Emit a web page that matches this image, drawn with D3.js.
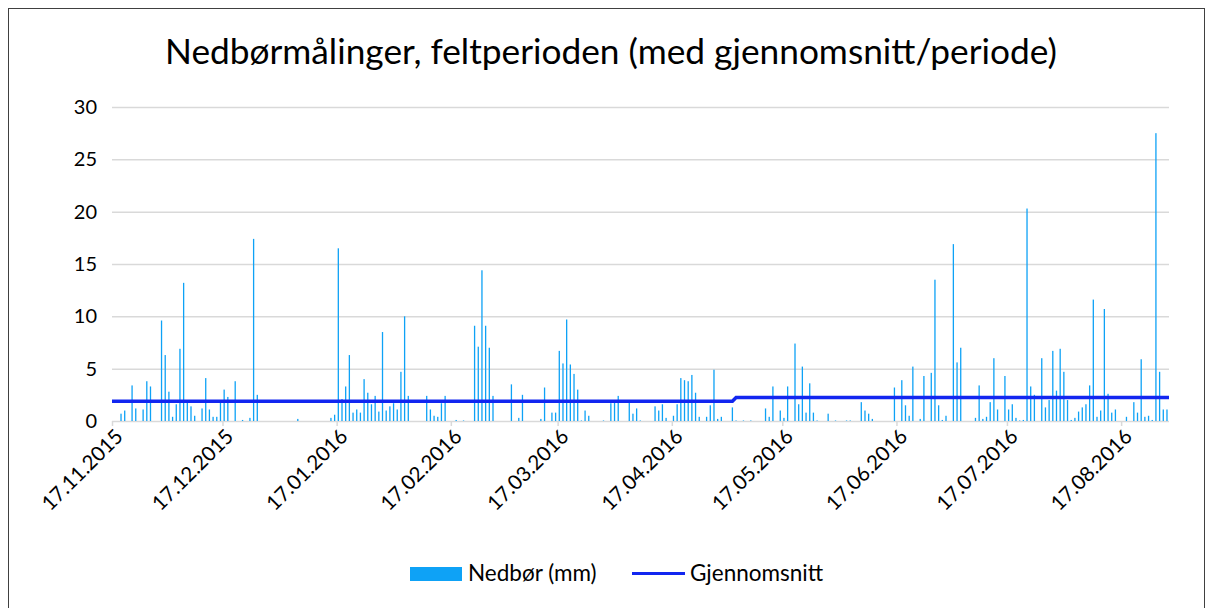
<!DOCTYPE html>
<html lang="no">
<head>
<meta charset="utf-8">
<title>Nedbørmålinger</title>
<script src="https://cdn.jsdelivr.net/npm/d3@7"></script>
<style>
    body { margin: 0; background: #fff; }
    text { font-family: "Lato", "Liberation Sans", sans-serif; fill: #000; }
</style>
</head>
<body>
<script>

    // daglig nedbør (mm) fra 17.11.2015, en verdi per dag
    var startDate = "17.11.2015",
        endDate = "30.08.2016";

    var nedbor = [
        0, 0, 0.7, 1.0, 0, 3.4, 1.2, 0, 1.1, 3.8,
        3.3, 0, 0, 9.6, 6.3, 2.8, 0.4, 1.6, 6.9, 13.2,
        1.8, 1.4, 0.5, 0, 1.2, 4.1, 1.1, 0.4, 0.4, 1.8,
        3.0, 2.3, 0, 3.8, 0, 0.1, 0, 0.3, 17.4, 2.5,
        0, 0, 0, 0, 0, 0, 0, 0, 0, 0,
        0.2, 0, 0, 0, 0, 0, 0, 0, 0, 0.3,
        0.6, 16.5, 2.1, 3.3, 6.3, 0.8, 1.1, 0.8, 4.0, 2.7,
        1.6, 2.4, 0.9, 8.5, 1.0, 1.4, 1.7, 1.1, 4.7, 10.0,
        2.4, 0, 0, 0, 0, 2.4, 1.1, 0.5, 0.4, 1.7,
        2.4, 0, 0, 0.1, 0, 0.05, 0, 0, 9.1, 7.1,
        14.4, 9.1, 7.0, 2.4, 0, 0, 0, 0, 3.5, 0,
        0.3, 2.5, 0, 0, 0, 0, 0.2, 3.2, 0, 0.8,
        0.8, 6.7, 5.5, 9.7, 5.4, 4.5, 3.0, 0.05, 1.0, 0.5,
        0, 0, 0, 0.05, 0, 1.7, 1.8, 2.4, 0, 0,
        2.0, 0.7, 1.2, 0.05, 0, 0, 0, 1.4, 1.0, 1.6,
        0.3, 0, 0.5, 1.6, 4.1, 3.9, 3.8, 4.4, 2.7, 0.4,
        0, 0.4, 1.5, 4.9, 0.2, 0.4, 0, 0, 1.3, 0.05,
        0, 0.05, 0, 0.05, 0, 0, 0, 1.2, 0.4, 3.3,
        0, 1.0, 0.3, 3.3, 0, 7.4, 1.6, 5.2, 0.8, 3.6,
        0.8, 0.05, 0, 0, 0.7, 0, 0.05, 0, 0, 0.05,
        0.05, 0, 0, 1.8, 1.0, 0.7, 0.2, 0, 0, 0,
        0, 0, 3.2, 0, 3.9, 1.5, 0.5, 5.2, 0, 0.2,
        4.3, 0, 4.6, 13.5, 1.5, 0.1, 0.5, 0, 16.9, 5.6,
        7.0, 0, 0, 0, 0.3, 3.4, 0.2, 0.4, 1.8, 6.0,
        1.1, 0, 4.3, 1.1, 1.6, 0.3, 0.05, 0.1, 20.3, 3.3,
        2.5, 0, 6.0, 1.3, 2.0, 6.7, 2.9, 6.9, 4.7, 2.0,
        0.1, 0.3, 0.9, 1.3, 1.6, 3.4, 11.6, 0.4, 1.0, 10.7,
        2.6, 0.8, 1.1, 0, 0, 0.4, 0, 1.8, 0.8, 5.9,
        0.4, 0.5, 0.1, 27.5, 4.7, 1.1, 1.1
    ];

    // gjennomsnitt per periode (to perioder)
    var snittDates = ["17.11.2015", "03.05.2016", "04.05.2016", "30.08.2016"];
    var snittValues = [1.88, 1.88, 2.24, 2.24];

    var tickLabels = ["17.11.2015", "17.12.2015", "17.01.2016", "17.02.2016", "17.03.2016",
        "17.04.2016", "17.05.2016", "17.06.2016", "17.07.2016", "17.08.2016"];
    var yTicks = [0, 5, 10, 15, 20, 25, 30];

    var title = "Nedbørmålinger, feltperioden (med gjennomsnitt/periode)";
    var legendNames = ["Nedbør (mm)", "Gjennomsnitt"];

    var width = 1213, height = 608;
    var plot = {left: 112, right: 1169, top: 107, bottom: 421};
    var barColor = "#0ea2f6", lineColor = "#1226f0", gridColor = "#d9d9d9";

    var parse = d3.timeParse("%d.%m.%Y");
    var fmt = d3.timeFormat("%d.%m.%Y");

    var svg = d3.select("body").append("svg")
        .attr("width", width)
        .attr("height", height);

    svg.append("rect")
        .attr("width", width)
        .attr("height", height)
        .attr("fill", "#fff");

    // ramme rundt diagrammet
    svg.append("rect")
        .attr("x", 8.5)
        .attr("y", 8.5)
        .attr("width", 1196)
        .attr("height", 640)
        .attr("fill", "none")
        .attr("stroke", "#404040")
        .attr("stroke-width", 1);

    var x = d3.scaleTime()
        .domain([parse(startDate), parse(endDate)])
        .range([plot.left, plot.right]);

    var y = d3.scaleLinear()
        .domain([0, 30])
        .range([plot.bottom, plot.top]);

    var dayW = x(d3.timeDay.offset(parse(startDate), 1)) - x(parse(startDate));
    var barOff = dayW * 0.45;

    // rutenett
    var yAxis = svg.append("g")
        .attr("transform", "translate(" + plot.left + ",0)")
        .call(d3.axisLeft(y).tickValues(yTicks).tickSize(-(plot.right - plot.left)).tickPadding(15));
    yAxis.select(".domain").remove();
    yAxis.selectAll(".tick line")
        .attr("stroke", gridColor)
        .attr("stroke-width", 1.5);
    yAxis.selectAll(".tick text")
        .style("font-size", "20px")
        .style("font-family", "Lato, sans-serif")
        .attr("fill", "#000");

    // x-akse
    var xAxis = svg.append("g")
        .attr("transform", "translate(0," + plot.bottom + ")")
        .call(d3.axisBottom(x).tickValues(tickLabels.map(parse)).tickSize(5).tickFormat(fmt));
    xAxis.select(".domain").remove();
    xAxis.selectAll(".tick line")
        .attr("stroke", gridColor)
        .attr("stroke-width", 1.5);
    xAxis.selectAll(".tick text")
        .style("font-size", "20.5px")
        .style("font-family", "Lato, sans-serif")
        .attr("fill", "#000")
        .attr("text-anchor", "end")
        .attr("dy", "0.35em")
        .attr("transform", "translate(1,6) rotate(-45)");

    // søyler
    var days = nedbor.map(function (v, i) {
        return {date: d3.timeDay.offset(parse(startDate), i), value: v};
    }).filter(function (d) { return d.value > 0; });

    svg.append("g").selectAll("rect")
        .data(days)
        .enter()
        .append("rect")
        .attr("x", function (d) { return x(d.date) + barOff - 0.65; })
        .attr("y", function (d) { return y(d.value); })
        .attr("width", 1.3)
        .attr("height", function (d) { return y(0) - y(d.value); })
        .attr("fill", barColor);

    // gjennomsnittslinje
    var snitt = snittDates.map(function (s, i) {
        return {date: parse(s), value: snittValues[i]};
    });
    var line = d3.line()
        .x(function (d, i) {
            if (i === 0) return plot.left;
            if (i === snitt.length - 1) return plot.right;
            return x(d.date) + barOff;
        })
        .y(function (d) { return y(d.value); });
    svg.append("path")
        .datum(snitt)
        .attr("d", line)
        .attr("fill", "none")
        .attr("stroke", lineColor)
        .attr("stroke-width", 3.5);

    // tittel
    var t = svg.append("text")
        .attr("x", 611)
        .attr("y", 64)
        .attr("text-anchor", "middle")
        .style("font-size", "32px")
        .text(title);
    var tw = t.node().getComputedTextLength();
    t.style("font-size", (32 * 892 / tw).toFixed(2) + "px");

    // legende
    var legend = svg.append("g");
    legend.append("rect")
        .attr("x", 410)
        .attr("y", 567)
        .attr("width", 52)
        .attr("height", 14)
        .attr("fill", barColor);
    legend.append("text")
        .attr("x", 468)
        .attr("y", 581)
        .style("font-size", "22.5px")
        .text(legendNames[0]);
    legend.append("line")
        .attr("x1", 632)
        .attr("x2", 685)
        .attr("y1", 573.5)
        .attr("y2", 573.5)
        .attr("stroke", lineColor)
        .attr("stroke-width", 3);
    legend.append("text")
        .attr("x", 690)
        .attr("y", 581)
        .style("font-size", "22.5px")
        .text(legendNames[1]);

</script>
</body>
</html>
